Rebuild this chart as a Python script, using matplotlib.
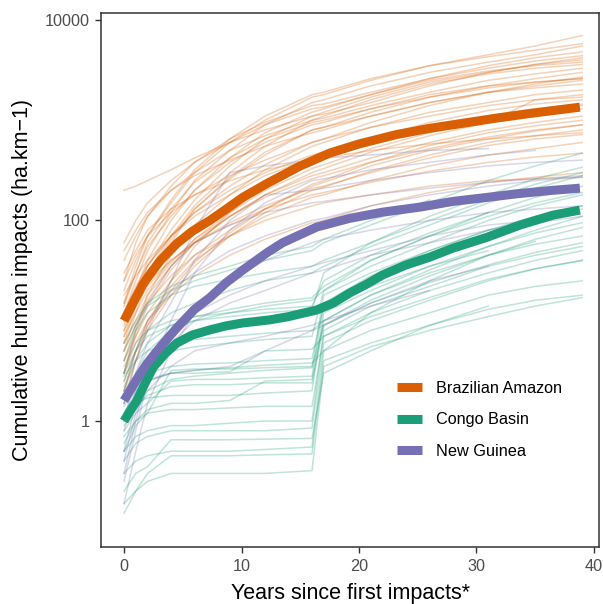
import numpy as np
import matplotlib.pyplot as plt
from matplotlib.lines import Line2D

plt.rcParams['font.family'] = ['Liberation Sans', 'DejaVu Sans']

# regional colours
C_AMZ = '#D95F02'
C_CON = '#1B9E77'
C_PNG = '#7570B3'

# years at which each landscape trajectory is sampled
years = [0, 1, 2, 4, 6, 9, 12, 16, 17, 21, 26, 31, 35, 39]
nan = np.nan

# Brazilian Amazon landscapes
amazon = [
    [200, 220, 250, 320, 420, 600, 800, 1100, 1150, 1500, 2200, 3000, 3600, 4200],
    [20, 40, 70, 150, 300, 600, 1000, 1700, 1800, 2500, 3500, 4500, 5500, 7000],
    [12, 25, 50, 120, 250, 500, 900, 1500, 1600, 2200, 3000, 3800, 4500, 5500],
    [8, 18, 35, 80, 160, 350, 650, 1100, 1200, 1700, 2400, 3000, 3600, 4000],
    [5, 12, 25, 60, 130, 260, 450, 800, 850, 1200, 1700, 2200, 2600, 3000],
    [15, 30, 55, 110, 200, 380, 600, 900, 950, 1300, 1800, 2200, 2400, 2600],
    [3, 8, 18, 45, 90, 180, 320, 550, 600, 850, 1200, 1500, 1800, 2000],
    [25, 45, 70, 120, 180, 280, 400, 600, 650, 850, 1100, 1400, 1600, 1800],
    [6, 10, 18, 35, 60, 110, 180, 300, 330, 480, 700, 950, 1150, 1300],
    [10, 20, 35, 70, 120, 200, 300, 450, 480, 600, 800, 950, 1600, 1700],
    [4, 7, 12, 25, 45, 80, 130, 220, 240, 350, 500, 650, 780, 900],
    [30, 50, 80, 130, 180, 250, 320, 400, 420, 500, 580, 650, 700, 750],
    [2, 5, 10, 22, 40, 70, 110, 170, 180, 250, 350, 450, 520, 600],
    [8, 14, 22, 40, 60, 90, 130, 180, 190, 240, 310, 380, 430, 470],
    [3, 6, 10, 18, 28, 45, 65, 95, 100, 140, 190, 240, 270, 300],
    [5, 9, 15, 28, 45, 70, 100, 140, 150, 180, 220, 250, 260, 270],
    [40, 70, 110, 200, 300, 500, 700, 1000, 1050, 1400, 1900, 2500, 2900, 3300],
    [15, 35, 70, 160, 320, 650, 1100, 1800, 1900, 2600, 3500, 4300, 5000, 5800],
    [9, 20, 40, 100, 200, 420, 750, 1200, 1300, 1800, 2500, 3100, 3500, 3800],
    [6, 14, 28, 65, 130, 270, 480, 800, 850, 1100, 1500, 1900, 2200, 2500],
    [18, 28, 40, 70, 110, 180, 280, 420, 450, 600, 850, 1100, 1300, 1450],
    [2.5, 5, 9, 20, 38, 75, 130, 230, 250, 380, 560, 750, 880, 1000],
    [50, 80, 120, 200, 280, 400, 550, 750, 800, 1100, 1500, 1900, 2100, 2300],
    [7, 15, 30, 70, 140, 300, 550, 1000, 1100, 1600, 2300, 2900, 3300, 3600],
    [4, 9, 16, 35, 65, 120, 200, 330, 360, 520, 750, 1000, 1200, 1400],
    [12, 22, 36, 70, 120, 220, 360, 600, 650, 950, 1400, 1900, 2300, 2700],
    [1.5, 4, 9, 25, 55, 120, 220, 400, 430, 650, 950, 1250, 1450, 1600],
    [25, 60, 110, 220, 380, 650, 950, 1400, 1450, 1900, 2600, 3300, 3900, 4400],
    [10, 16, 24, 40, 60, 95, 140, 210, 220, 300, 420, 560, 650, 720],
    [3, 7, 14, 32, 60, 110, 180, 280, 300, 420, 600, 800, 950, 1100],
    [60, 100, 150, 250, 380, 600, 900, 1300, 1350, 1800, 2600, 3500, 4200, 4800],
    [7, 12, 20, 38, 65, 110, 170, 260, 280, 380, 520, 680, 800, 900],
    [2, 4, 8, 18, 35, 70, 120, 200, 215, 310, 450, 600, 700, 800],
    [14, 30, 60, 130, 240, 420, 650, 950, 1000, 1300, 1700, 2100, 2400, 2600],
]

# Congo Basin landscapes
congo = [
    [0.3, 0.4, 0.45, 0.5, 0.5, 0.5, 0.52, 0.55, 5, 8, 12, 18, 22, 25],
    [0.5, 0.7, 0.8, 0.9, 0.9, 0.95, 1.0, 1.0, 8, 14, 22, 35, 45, 55],
    [1.0, 1.5, 1.7, 1.8, 1.8, 1.8, 1.9, 2.0, 12, 20, 35, 55, 75, 95],
    [0.8, 1.2, 1.5, 2.5, 2.6, 2.6, 2.7, 2.8, 15, 28, 50, 80, 110, 140],
    [2, 3, 4, 5, 5.5, 6, 6.5, 7, 20, 40, 70, 110, 150, 190],
    [3, 5, 7, 9, 10, 11, 12, 13, 30, 60, 110, 180, 260, 340],
    [0.15, 0.2, 0.3, 0.45, 0.45, 0.45, 0.46, 0.47, 4, 6, 9, 13, 16, 18],
    [1.5, 3, 5, 8, 10, 12, 14, 16, 20, 35, 60, 100, 140, 180],
    [0.6, 1, 1.3, 1.5, 1.5, 1.6, 2.5, 2.6, 10, 18, 30, 45, 58, 70],
    [4, 8, 12, 18, 22, 26, 30, 35, 40, 60, 100, 160, 230, 300],
    [1.2, 2, 2.5, 3, 3.2, 3.4, 3.6, 3.8, 5, 12, 25, 45, 65, 85],
    [0.4, 0.6, 0.7, 0.8, 0.8, 0.8, 0.8, 0.85, 6, 10, 16, 25, 33, 40],
    [2.5, 5, 8, 12, 15, 20, 25, 30, 35, 55, 90, 150, 210, 280],
    [0.9, 1.4, 1.8, 2.2, 2.3, 2.3, 2.4, 2.4, 9, 15, 24, 36, 48, 60],
    [5, 9, 14, 20, 25, 32, 40, 50, 60, 90, 150, 250, 350, 470],
    [0.2, 0.3, 0.35, 0.65, 0.65, 0.65, 0.66, 0.67, 3, 5, 9, 14, nan, nan],
    [1.8, 2.5, 3, 3.5, 3.7, 3.8, 4, 4.2, 14, 22, 35, 50, nan, nan],
    [3.5, 6, 8, 10, 11, 12, 13, 14, 25, 45, 75, 120, 170, 220],
    [0.7, 1, 1.2, 1.3, 1.3, 1.35, 1.4, 1.4, 7, 12, 20, 30, 40, 50],
    [2.2, 4, 6, 9, 11, 13, 15, 17, 22, 40, 70, 120, nan, nan],
    [1, 1.6, 2, 2.6, 2.8, 3, 3.2, 3.4, 18, 30, 50, 80, 105, 130],
    [0.12, 0.2, 0.25, 0.3, 0.3, 0.3, 0.3, 0.32, 3.5, 5.5, 8, 11, 14, 17],
    [2.8, 4, 5, 6, 6.5, 7, 7.5, 8, 10, 18, 32, 55, 80, 110],
    [0.5, 0.9, 1.2, 3.2, 3.3, 3.3, 3.4, 3.5, 9, 16, 28, 45, 62, nan],
    [6, 10, 15, 22, 28, 35, 45, 55, 65, 100, 160, nan, nan, nan],
    [1.4, 2.2, 2.6, 3.0, 3.0, 3.1, 5, 5.2, 7, 11, 17, 26, 33, 40],
]

# New Guinea landscapes
guinea = [
    [0.15, 0.5, 1.5, 5, 12, 25, 40, 60, 65, 80, 100, 120, 130, 140],
    [0.3, 1, 3, 10, 30, 80, 150, 250, 260, 320, 380, 450, 500, nan],
    [1.5, 4, 8, 25, 80, 300, 350, 400, 420, 450, 500, 520, nan, nan],
    [0.5, 1.5, 3, 6, 10, 15, 20, 30, 32, 45, 60, 80, 95, 110],
    [2, 5, 10, 20, 30, 50, 70, 100, 105, 140, 180, 220, 250, 270],
    [0.8, 2, 4, 8, 12, 18, 25, 35, 38, 50, 70, 90, 100, nan],
    [0.25, 0.8, 2.5, 3, 3.2, 3.5, 5, 8, 9, 15, 25, 35, nan, nan],
    [1, 3, 6, 15, 40, 100, 180, 200, 210, 250, 300, 350, 380, 400],
    [0.4, 1.2, 2, 3.5, 5, 6, 7, 9, 10, 14, 20, nan, nan, nan],
    [3, 8, 15, 35, 60, 90, 120, 150, 155, 180, 210, 240, 260, 280],
]

# regional trends
amz_x = [0, 0.5, 1, 1.6, 2.2, 3.1, 4.5, 5.8, 7.3, 8.7, 10.1, 12.2, 15, 17.5,
         20, 23.2, 26, 28.9, 31.7, 34.6, 38.8]
amz_y = [10, 13, 17, 23, 29, 40, 59, 78, 100, 130, 170, 235, 350, 470,
         580, 720, 830, 935, 1050, 1170, 1350]

con_x = [0, 0.5, 1.1, 1.8, 2.5, 3.5, 4.5, 5.8, 7.3, 8.7, 10.1, 12.4, 14,
         16.4, 17.8, 19.2, 20.6, 22, 24, 26, 28, 30.9, 33.7, 36.5, 38.8]
con_y = [1.0, 1.25, 1.6, 2.4, 3.45, 4.7, 6.0, 7.2, 8.1, 8.9, 9.5, 10.2, 11,
         12.8, 15, 18.9, 23, 28.6, 36, 43, 53, 68, 90, 113, 127]

png_x = [0, 0.5, 1, 2, 3.1, 4.5, 6, 7.3, 8.7, 10.1, 12.2, 13.5, 16.4, 19.2,
         22, 25.2, 28, 30.9, 33.5, 36.5, 38.8]
png_y = [1.6, 2.0, 2.5, 3.8, 5.5, 8.5, 13, 17, 24, 32, 48, 60, 86, 105,
         121, 136, 155, 170, 185, 200, 210]

labels = ['Brazilian Amazon', 'Congo Basin', 'New Guinea']

fig = plt.figure(figsize=(6.03, 6.04), dpi=100)
ax = fig.add_axes([0.1675, 0.0944, 0.8259, 0.8841])

for series, col in [(amazon, C_AMZ), (congo, C_CON), (guinea, C_PNG)]:
    for vals in series:
        ax.plot(years, vals, color=col, lw=1.1, alpha=0.28)

for xs, ys, col in [(amz_x, amz_y, C_AMZ), (con_x, con_y, C_CON), (png_x, png_y, C_PNG)]:
    ax.plot(xs, ys, color=col, lw=6.5, solid_capstyle='butt',
            solid_joinstyle='round')

ax.set_yscale('log')
ax.set_xlim(-1.96, 40.43)
ax.set_ylim(0.0554, 11740)
ax.set_xticks([0, 10, 20, 30, 40])
ax.set_yticks([1, 100, 10000])
ax.set_yticklabels(['1', '100', '10000'])
ax.minorticks_off()
ax.tick_params(length=4.3, width=1, color='#333333', labelcolor='#4D4D4D',
               labelsize=11.7, pad=4)
for sp in ax.spines.values():
    sp.set_color('#333333')
    sp.set_linewidth(1.1)

ax.set_xlabel('Years since first impacts*', fontsize=15.5, labelpad=7)
ax.set_ylabel('Cumulative human impacts (ha.km\u22121)', fontsize=15.5, labelpad=8)

handles = [Line2D([], [], color=c, lw=6.5, solid_capstyle='butt')
           for c in (C_AMZ, C_CON, C_PNG)]
fig.legend(handles, labels, loc='upper left',
           bbox_to_anchor=(397 / 603, 1 - 381 / 604), frameon=False,
           fontsize=11.7, handlelength=1.55, handletextpad=0.85,
           labelspacing=1.0, borderpad=0, borderaxespad=0)

fig.savefig('out.png', dpi=100)
